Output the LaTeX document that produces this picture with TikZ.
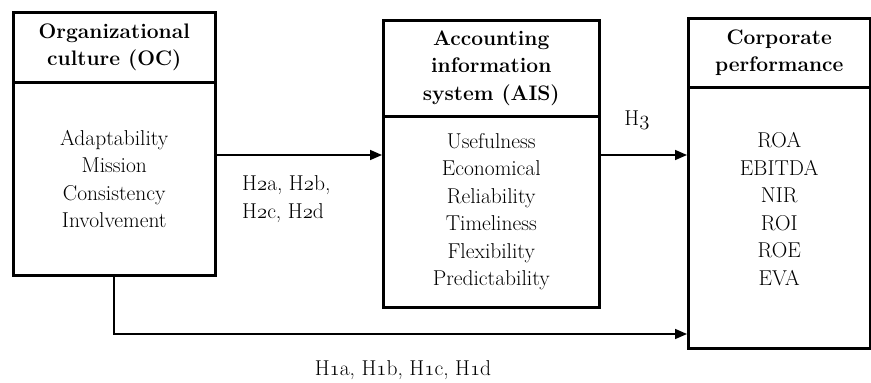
\documentclass[tikz,border=0pt]{standalone}
\usepackage{fontspec}
\usetikzlibrary{arrows.meta}

% old style figures taken from the math italic font
\newcommand{\osf}[1]{$\mathnormal{#1}$}

\tikzset{
  head/.style={draw,line width=2.5pt,minimum width=#1,anchor=north west,
    align=center,font=\fontsize{21}{27.5}\selectfont\bfseries,inner sep=0pt},
  body/.style={draw,line width=2.5pt,minimum width=#1,anchor=north west,
    align=center,font=\fontsize{21.5}{27.5}\selectfont,inner sep=0pt},
  conn/.style={line width=1.6pt,-{Triangle[length=12pt,width=10pt]}},
  hyp/.style={font=\fontsize{21.5}{27.5}\selectfont,inner sep=0pt}
}

\begin{document}
\begin{tikzpicture}[x=1pt,y=-1pt]
\useasboundingbox (0,0) rectangle (871,383);

% organizational culture
\node[head=202pt,minimum height=70pt] (ocH) at (12,11)
  {Organizational\\culture (OC)};
\node[body=202pt,minimum height=193pt] (ocB) at (12,81)
  {Adaptability\\Mission\\Consistency\\Involvement};

% accounting information system
\node[head=216pt,minimum height=96pt] (aisH) at (382,19)
  {Accounting\\information\\system (AIS)};
\node[body=216pt,minimum height=191pt] (aisB) at (382,115)
  {Usefulness\\Economical\\Reliability\\Timeliness\\Flexibility\\Predictability};

% corporate performance
\node[head=182pt,minimum height=69pt] (cpH) at (687,17)
  {Corporate\\performance};
\node[body=182pt,minimum height=261pt] (cpB) at (687,86)
  {ROA\\EBITDA\\NIR\\ROI\\ROE\\EVA\\[-10pt]};

\coordinate (h2) at (0,155);
\coordinate (h1) at (0,334);

\draw[conn] (ocB.east |- h2) -- (aisB.west |- h2);
\draw[conn] (aisB.east |- h2) -- (cpB.west |- h2);
\draw[conn] (ocB.south) |- (cpB.west |- h1);

\node[hyp] (lblH3) at (637,120) {H\osf{3}};
\node[hyp,anchor=west,align=left] (lblH2) at (242,199)
  {H\osf{2}a, H\osf{2}b,\\H\osf{2}c, H\osf{2}d};
\node[hyp] (lblH1) at (403,370)
  {H\osf{1}a, H\osf{1}b, H\osf{1}c, H\osf{1}d};

\end{tikzpicture}
\end{document}
